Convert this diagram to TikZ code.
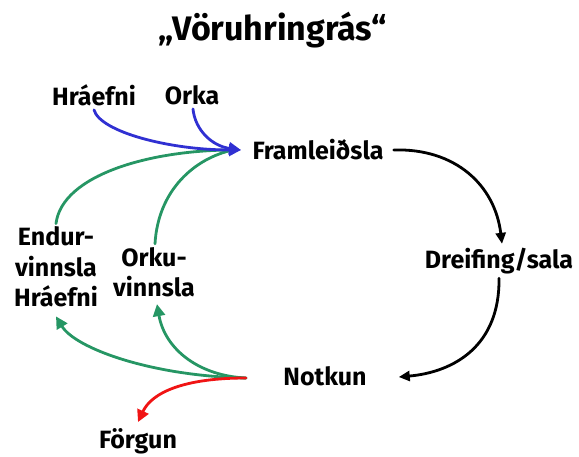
\documentclass[tikz,border=0pt]{standalone}
\usepackage{fontspec}
\setmainfont{Fira Sans}
\usetikzlibrary{arrows.meta,calc}
\definecolor{cblue}{RGB}{48,48,210}
\definecolor{cgreen}{RGB}{38,150,100}
\definecolor{cred}{RGB}{240,20,20}
\tikzset{
  lbl/.style={font=\fontsize{25}{30.5}\selectfont\bfseries, inner sep=2pt, align=center},
  conn/.style={line width=2.8pt, line cap=round},
  tip/.style={-{Triangle[length=12pt,width=12pt]}},
  btip/.style={-{Triangle[length=11pt,width=10pt]}},
}
\begin{document}
\begin{tikzpicture}[x=1pt,y=-1pt]
\useasboundingbox (0,0) rectangle (579,457);
\node[font=\fontsize{34}{40}\selectfont\bfseries] (title) at (273,30) {„Vöruhringrás“};
\node[lbl] (hra) at (94,95) {Hráefni};
\node[lbl] (orka) at (192,95) {Orka};
\node[lbl] (framl) at (318,150) {Framleiðsla};
\node[lbl] (dreif) at (499,261) {Dreifing/sala};
\node[lbl] (notkun) at (325,376) {Notkun};
\node[lbl, inner sep=1pt] (endur) at (56,267) {Endur-\\vinnsla\\Hráefni};
\node[lbl, inner sep=1pt] (orku) at (154,272) {Orku-\\vinnsla};
\node[lbl] (forgun) at (138,441) {Förgun};
\coordinate (fin) at (241,150);
\coordinate (fout) at (246,378);
% green into production
\draw[conn, cgreen] ($(endur.north)+(0,-2)$) .. controls (62,175) and (150,150) .. ($(fin)+(-8,0)$);
\draw[conn, cgreen] ($(orku.north)+(1,-2)$) .. controls (158,190) and (195,158) .. ($(fin)+(-8,0)$);
% blue into production
\draw[conn, cblue, tip] ($(hra.south)+(0,2)$) .. controls (100,132) and (170,150) .. (fin);
\draw[conn, cblue, tip] ($(orka.south)+(1,2)$) .. controls (195,130) and (212,146) .. (fin);
% main cycle
\draw[conn, black, btip] ($(framl.east)+(8,0)$) .. controls (455,148) and (495,185) .. ($(dreif.north)+(3,-2)$);
\draw[conn, black, btip] ($(dreif.south)+(0,2)$) .. controls (500,345) and (455,372) .. ($(notkun.east)+(30,1)$);
% out of use
\draw[conn, cgreen, tip] (fout) .. controls (150,376) and (75,348) .. ($(endur.south)+(0,8)$);
\draw[conn, cgreen, tip] (fout) .. controls (200,376) and (165,350) .. ($(orku.south)+(3,6)$);
\draw[conn, cred, tip] (fout) .. controls (185,378) and (152,392) .. ($(forgun.north)+(0,-4)$);
\end{tikzpicture}
\end{document}
